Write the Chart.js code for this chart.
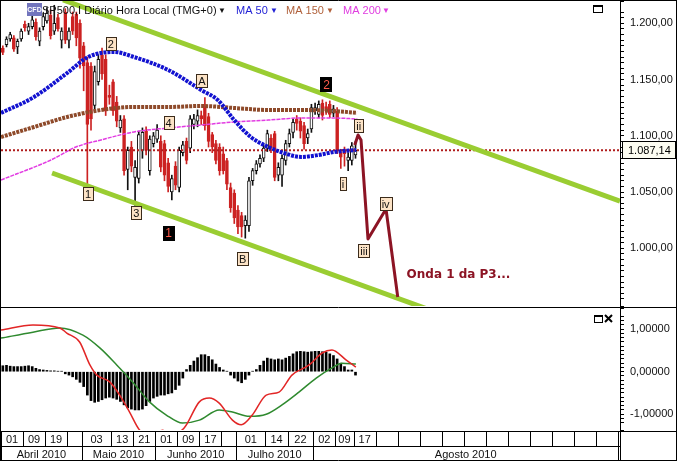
<!DOCTYPE html>
<html>
<head>
<meta charset="utf-8">
<title>SP500 diário</title>
<script src="https://cdn.jsdelivr.net/npm/chart.js@4.4.1/dist/chart.umd.min.js"></script>
<style>
  html, body { margin: 0; padding: 0; background: #fff; }
  #wrap { position: relative; width: 677px; height: 461px; overflow: hidden; }
  #mainChart { position: absolute; left: 0; top: 0; }
  #oscChart { position: absolute; left: 0; top: 307px; }
</style>
</head>
<body>
<div id="wrap">
  <canvas id="mainChart" width="677" height="308"></canvas>
  <canvas id="oscChart" width="677" height="154"></canvas>
</div>
<script>
// ---- daily candles, index 0 = 01/04/2010 ----
const opens = [
  1178, 1181, 1186, 1187, 1179, 1186, 1199, 1193, 1197, 1201,
  1184, 1197, 1202, 1207, 1193, 1205, 1185, 1210, 1185, 1206,
  1208, 1200, 1180, 1165, 1162, 1127, 1148, 1172, 1168, 1136,
  1148, 1130, 1107, 1115, 1070, 1090, 1063, 1062, 1087, 1104,
  1069, 1093, 1097, 1095, 1093, 1076, 1050, 1073, 1054, 1085,
  1095, 1089, 1110, 1113, 1118, 1125, 1117, 1101, 1093, 1090,
  1084, 1078, 1054, 1049, 1034, 1029, 1020, 1020, 1060, 1069,
  1075, 1080, 1089, 1098, 1102, 1065, 1065, 1078, 1093, 1103,
  1115, 1113, 1109, 1098, 1106, 1122, 1119, 1129, 1126, 1128,
  1120, 1122, 1085, 1087, 1078, 1078, 1083
];
const highs = [
  1180, 1188, 1192, 1189, 1186, 1195, 1202, 1200, 1208, 1204,
  1196, 1209, 1214, 1212, 1216, 1208, 1196, 1213, 1196, 1210,
  1210, 1203, 1183, 1170, 1165, 1162, 1172, 1178, 1172, 1145,
  1150, 1135, 1118, 1118, 1090, 1095, 1078, 1104, 1107, 1108,
  1100, 1103, 1110, 1100, 1096, 1080, 1065, 1077, 1090, 1095,
  1098, 1118, 1119, 1123, 1122, 1134, 1120, 1103, 1096, 1093,
  1090, 1080, 1058, 1052, 1038, 1032, 1029, 1063, 1071, 1078,
  1083, 1092, 1105, 1101, 1104, 1076, 1083, 1096, 1106, 1115,
  1118, 1116, 1112, 1106, 1128, 1129, 1131, 1132, 1130, 1131,
  1127, 1125, 1088, 1090, 1085, 1094, 1095
];
const lows = [
  1172, 1179, 1184, 1175, 1173, 1184, 1193, 1190, 1195, 1185,
  1180, 1194, 1200, 1186, 1190, 1193, 1178, 1182, 1178, 1190,
  1180, 1160, 1140, 1057, 1105, 1122, 1145, 1150, 1118, 1128,
  1118, 1108, 1103, 1065, 1052, 1068, 1038, 1058, 1080, 1083,
  1065, 1090, 1094, 1068, 1060, 1050, 1043, 1052, 1050, 1082,
  1075, 1085, 1106, 1108, 1110, 1105, 1090, 1085, 1075, 1065,
  1066, 1052, 1032, 1022, 1013, 1010, 1009, 1015, 1056, 1066,
  1072, 1077, 1086, 1085, 1060, 1060, 1055, 1074, 1090, 1098,
  1105, 1098, 1088, 1093, 1103, 1119, 1116, 1114, 1119, 1116,
  1117, 1084, 1071, 1073, 1069, 1074, 1080
];
const closes = [
  1174, 1186, 1190, 1177, 1184, 1193, 1196, 1197, 1203, 1188,
  1193, 1206, 1209, 1189, 1200, 1195, 1193, 1185, 1193, 1193,
  1187, 1169, 1162, 1110, 1115, 1157, 1168, 1155, 1122, 1134,
  1122, 1113, 1114, 1069, 1087, 1073, 1072, 1101, 1103, 1087,
  1097, 1100, 1105, 1072, 1065, 1055, 1062, 1056, 1087, 1092,
  1078, 1115, 1115, 1118, 1115, 1109, 1095, 1090, 1078, 1069,
  1069, 1057, 1036, 1027, 1019, 1019, 1025, 1060, 1069, 1075,
  1080, 1089, 1102, 1089, 1063, 1072, 1080, 1093, 1102, 1112,
  1111, 1104, 1093, 1102, 1125, 1125, 1128, 1118, 1122, 1119,
  1124, 1087, 1081, 1084, 1081, 1091, 1087.14
];
const lastPrice = 1087.14;

// moving averages, read at a few day positions
const ma50X  = [0, 9, 18, 23.7, 30.8, 36.2, 45.5, 54.5, 59, 63.5, 68, 72.8, 77, 81.7, 86.4, 90.7, 96.7];
const ma50   = [1120.3, 1134.5, 1155.8, 1170.0, 1174.5, 1170.0, 1158.5, 1140.7, 1131.8, 1114.0, 1098.9, 1090.0, 1084.7, 1081.2, 1082.9, 1085.6, 1087.4];
const ma150X = [0, 9, 18, 27.2, 36.2, 45.5, 54.5, 63.5, 72.8, 81.7, 90.7, 96.9];
const ma150  = [1098.9, 1107.8, 1116.7, 1122.9, 1125.6, 1125.6, 1126.5, 1124.7, 1122.9, 1122.9, 1122.0, 1120.3];
const ma200X = [0, 13.6, 20.4, 27.2, 36.2, 45.5, 54.5, 63.5, 72.8, 81.7, 90.7, 97];
const ma200  = [1060.7, 1078.5, 1090.0, 1096.3, 1103.4, 1106.9, 1109.6, 1112.3, 1114.0, 1115.8, 1115.8, 1114.9];

// channel lines
const upperX = [16.9, 168.5];
const upperY = [1220.7, 1042.0];
const lowerX = [13.9, 116.4];
const lowerY = [1066.9, 945.6];

// projected wave path
const waveX = [96.3, 97.2, 98.0, 99.9, 104.8, 108.0];
const waveY = [1091.8, 1100.7, 1096.3, 1008.3, 1034.9, 956.7];

// wave tags
const tagText = ['2', '1', '3', '4', 'A', 'B', 'ii', 'i', 'iii', 'iv'];
const tagX    = [29.9, 23.7, 36.8, 45.6, 54.7, 65.8, 97.4, 93.1, 98.8, 104.7];
const tagY    = [1181.6, 1048.7, 1031.8, 1111.8, 1148.7, 990.9, 1108.7, 1057.2, 997.6, 1039.4];
const bigTagText = ['2', '1'];
const bigTagX    = [88.6, 45.6];
const bigTagY    = [1145.6, 1014.0];
const noteText = 'Onda 1 da P3...';
const noteX = 110.4, noteY = 976.3;

// oscillator
const histValues = [
  0.14, 0.15, 0.13, 0.12, 0.12, 0.12, 0.13, 0.14, 0.12, 0.08,
  0.05, 0.04, 0.03, 0.02, 0.02, 0.01, 0.01, -0.05, -0.08, -0.12,
  -0.18, -0.25, -0.35, -0.55, -0.68, -0.72, -0.70, -0.66, -0.62, -0.60,
  -0.62, -0.65, -0.70, -0.78, -0.85, -0.88, -0.90, -0.90, -0.88, -0.80,
  -0.70, -0.62, -0.58, -0.55, -0.55, -0.52, -0.50, -0.42, -0.32, -0.15,
  0.05, 0.15, 0.25, 0.33, 0.40, 0.40, 0.36, 0.28, 0.18, 0.10,
  0.04, 0.01, -0.08, -0.15, -0.22, -0.26, -0.18, -0.08, 0.01, 0.05,
  0.15, 0.25, 0.32, 0.30, 0.28, 0.30, 0.28, 0.32, 0.36, 0.42,
  0.47, 0.48, 0.47, 0.46, 0.47, 0.48, 0.48, 0.47, 0.46, 0.42,
  0.38, 0.30, 0.20, 0.12, 0.04, 0.04, -0.08
];
const macdX = [0, 8.7, 16, 17.9, 21.4, 24.2, 26.1, 29.6, 32.3, 35, 37.7, 40.4, 44, 46.4, 49.9, 54, 56.7, 59.4, 63, 65.4, 68.4, 72.2, 75.7, 79.2, 83.9, 87.4, 90.1, 93.9, 96.6];
const macd  = [0.98, 1.10, 1.03, 0.91, 0.70, 0.16, -0.08, -0.24, -0.55, -0.95, -1.37, -1.50, -1.38, -1.47, -1.32, -0.71, -0.62, -0.74, -1.14, -1.25, -1.02, -0.55, -0.48, -0.08, 0.16, 0.44, 0.51, 0.28, 0.11];
const signalX = [0, 8.7, 16, 22.3, 26.9, 31.5, 35.8, 40.4, 45, 49.4, 54, 59.4, 63, 67.6, 72.2, 76.5, 81.1, 85.8, 90.1, 92.8, 96.6];
const signal  = [0.79, 0.93, 1.03, 0.86, 0.56, 0.16, -0.24, -0.71, -1.02, -1.21, -1.14, -0.90, -0.95, -1.05, -1.00, -0.78, -0.48, -0.15, 0.09, 0.20, 0.18];

// date axis
const dayCellStart = [0, 6, 12, 18, 22, 30, 36, 42, 48, 54, 60, 64, 72, 78, 85, 91, 96, 102, 108, 114, 120, 126, 132, 138, 144, 150, 156, 162];
const dayCellLabel = ['01', '09', '19', '', '03', '13', '21', '01', '09', '17', '', '01', '14', '22', '02', '09', '17', '', '', '', '', '', '', '', '', '', '', ''];
const monthStart = [0, 22, 42, 64, 85];
const monthLabel = ['Abril 2010', 'Maio 2010', 'Junho 2010', 'Julho 2010', 'Agosto 2010'];

const xMin = 0, xMax = 168.5;
const FONT = '"Liberation Sans", Arial, sans-serif';

function fmtNum(v, d) {
  const s = Math.abs(v).toFixed(d).split('.');
  return (v < 0 ? '-' : '') + s[0].replace(/\B(?=(\d{3})+(?!\d))/g, '.') + ',' + s[1];
}
const pts = (xs, ys) => xs.map((x, i) => ({ x: x, y: ys[i] }));

const candleX = closes.map((_, i) => i + 0.5);
const isUp = closes.map((c, i) => c >= opens[i]);
const downRed = '#cc2222';

function line(data, color, width, extra) {
  return Object.assign({ type: 'line', data: data, borderColor: color, borderWidth: width,
    pointRadius: 0, fill: false, clip: 0 }, extra || {});
}

function fixAxis(width) {
  return function (s) { s.width = width; s.paddingTop = 0; s.paddingBottom = 0; };
}

// ---------- main panel ----------
const mainOverlay = {
  id: 'mainOverlay',
  afterDraw(chart) {
    const ctx = chart.ctx, sx = chart.scales.x, sy = chart.scales.y, a = chart.chartArea;
    ctx.save();
    // wave tags
    ctx.font = '11px ' + FONT;
    ctx.textAlign = 'center';
    ctx.textBaseline = 'middle';
    tagText.forEach((t, i) => {
      const cx = sx.getPixelForValue(tagX[i]), cy = sy.getPixelForValue(tagY[i]);
      const w = Math.round(ctx.measureText(t).width) + 4, h = 13;
      const l = Math.round(cx - w / 2) + 0.5, tp = Math.round(cy - h / 2) + 0.5;
      ctx.fillStyle = '#fce3c6';
      ctx.fillRect(l, tp, w, h);
      ctx.strokeStyle = '#3b2b1b';
      ctx.lineWidth = 1;
      ctx.strokeRect(l, tp, w, h);
      ctx.fillStyle = '#111';
      ctx.fillText(t, cx, cy + 1);
    });
    ctx.font = '12px ' + FONT;
    bigTagText.forEach((t, i) => {
      const cx = sx.getPixelForValue(bigTagX[i]), cy = sy.getPixelForValue(bigTagY[i]);
      const l = Math.round(cx - 6), tp = Math.round(cy - 7);
      ctx.fillStyle = '#000';
      ctx.fillRect(l, tp, 12, 15);
      ctx.fillStyle = '#ff5a4a';
      ctx.fillText(t, cx, cy + 1);
    });
    // note
    ctx.font = 'bold 12px "DejaVu Sans", sans-serif';
    ctx.textAlign = 'left';
    ctx.fillStyle = '#8c1424';
    ctx.fillText(noteText, sx.getPixelForValue(noteX), sy.getPixelForValue(noteY));

    // header
    ctx.fillStyle = '#7275bd';
    ctx.fillRect(27, 3, 15, 13);
    ctx.fillStyle = '#fff';
    ctx.font = 'bold 7px ' + FONT;
    ctx.textAlign = 'center';
    ctx.fillText('CFD', 34.5, 10);
    ctx.textAlign = 'left';
    ctx.textBaseline = 'alphabetic';
    ctx.font = '11px ' + FONT;
    ctx.fillStyle = '#111';
    ctx.fillText('SP500,I Diário Hora Local (TMG+0)', 42, 14);
    ctx.font = '8px ' + FONT;
    ctx.fillText('▼', 218, 13);
    ctx.font = '11px ' + FONT;
    ctx.fillStyle = '#2222d6';
    ctx.fillText('MA 50', 236, 14);
    ctx.font = '8px ' + FONT; ctx.fillText('▼', 270, 13);
    ctx.font = '11px ' + FONT;
    ctx.fillStyle = '#b0603a';
    ctx.fillText('MA 150', 286, 14);
    ctx.font = '8px ' + FONT; ctx.fillText('▼', 326, 13);
    ctx.font = '11px ' + FONT;
    ctx.fillStyle = '#e03ce0';
    ctx.fillText('MA 200', 343, 14);
    ctx.font = '8px ' + FONT; ctx.fillText('▼', 382, 13);
    // window button
    ctx.strokeStyle = '#000';
    ctx.lineWidth = 1;
    ctx.strokeRect(593.5, 5.5, 9, 7);
    ctx.fillStyle = '#000';
    ctx.fillRect(593, 5, 10, 2);

    // last price tag
    const py = Math.round(sy.getPixelForValue(lastPrice));
    ctx.fillStyle = '#fdfdf2';
    ctx.fillRect(622.5, py - 8.5, 53, 17);
    ctx.strokeStyle = '#000';
    ctx.strokeRect(622.5, py - 8.5, 53, 17);
    ctx.fillStyle = '#000';
    ctx.font = '11px ' + FONT;
    ctx.textBaseline = 'middle';
    ctx.fillText(fmtNum(lastPrice, 2), 628, py + 0.5);

    // frame
    ctx.beginPath();
    ctx.moveTo(0.5, 0); ctx.lineTo(0.5, 308);
    ctx.moveTo(0, 0.5); ctx.lineTo(677, 0.5);
    ctx.moveTo(676.5, 0); ctx.lineTo(676.5, 308);
    ctx.moveTo(0, 307.5); ctx.lineTo(677, 307.5);
    ctx.moveTo(a.right + 0.5, 0); ctx.lineTo(a.right + 0.5, 308);
    ctx.stroke();
    ctx.restore();
  }
};

new Chart(document.getElementById('mainChart'), {
  data: {
    datasets: [
      line(pts(waveX, waveY), '#8c1424', 3, { order: 0, borderJoinStyle: 'round' }),
      line(pts(upperX, upperY), '#9acd32', 5, { order: 1 }),
      line(pts(lowerX, lowerY), '#9acd32', 5, { order: 1 }),
      line(pts(ma50X, ma50), '#1212d0', 4, { order: 2, borderDash: [3, 1], cubicInterpolationMode: 'monotone' }),
      line(pts(ma150X, ma150), '#8e4a2a', 4, { order: 2, borderDash: [3, 1], cubicInterpolationMode: 'monotone' }),
      line(pts(ma200X, ma200), '#e23be2', 1.5, { order: 2, borderDash: [4, 1], cubicInterpolationMode: 'monotone' }),
      line([{ x: xMin, y: lastPrice }, { x: xMax, y: lastPrice }], '#b01c1c', 2, { order: 3, borderDash: [2, 2] }),
      {
        type: 'bar', order: 4, grouped: false, barThickness: 3, minBarLength: 1,
        data: candleX.map((x, i) => ({ x: x, y: [opens[i], closes[i]] })),
        backgroundColor: isUp.map(u => u ? '#ffffff' : downRed),
        borderColor: isUp.map(u => u ? '#111' : downRed),
        borderWidth: 1, borderSkipped: false
      },
      {
        type: 'bar', order: 5, grouped: false, barThickness: 1,
        data: candleX.map((x, i) => ({ x: x, y: [lows[i], highs[i]] })),
        backgroundColor: isUp.map(u => u ? '#111' : downRed)
      }
    ]
  },
  options: {
    responsive: false,
    animation: false,
    layout: { padding: { left: 1, top: 1, bottom: 2, right: 0 } },
    plugins: { legend: { display: false }, tooltip: { enabled: false } },
    scales: {
      x: { type: 'linear', min: xMin, max: xMax, offset: false, display: false },
      y: {
        position: 'right', min: 948.7, max: 1219.8,
        afterFit: fixAxis(57),
        grid: { drawOnChartArea: false, tickLength: 4, color: '#000' },
        border: { color: '#000' },
        ticks: {
          stepSize: 5, autoSkip: false, padding: 6, color: '#111',
          font: { family: FONT, size: 11 },
          callback: v => (Math.abs(v % 50) < 1e-6 ? fmtNum(v, 2) : '')
        }
      }
    }
  },
  plugins: [mainOverlay]
});

// ---------- oscillator panel + date axis ----------
const oscOverlay = {
  id: 'oscOverlay',
  afterDraw(chart) {
    const ctx = chart.ctx, sx = chart.scales.x, a = chart.chartArea;
    const r1 = a.bottom + 1.5, r2 = r1 + 15, r3 = 153.5;
    ctx.save();
    ctx.strokeStyle = '#000';
    ctx.lineWidth = 1;
    ctx.beginPath();
    ctx.moveTo(0, r1); ctx.lineTo(677, r1);
    ctx.moveTo(0, r2); ctx.lineTo(a.right, r2);
    ctx.moveTo(0, r3); ctx.lineTo(677, r3);
    ctx.moveTo(0.5, 0); ctx.lineTo(0.5, 154);
    ctx.moveTo(676.5, 0); ctx.lineTo(676.5, 154);
    ctx.moveTo(a.right + 0.5, 0); ctx.lineTo(a.right + 0.5, 154);
    dayCellStart.forEach(d => {
      const x = Math.round(sx.getPixelForValue(d)) + 0.5;
      ctx.moveTo(x, r1); ctx.lineTo(x, r2);
    });
    monthStart.forEach(d => {
      const x = Math.round(sx.getPixelForValue(d)) + 0.5;
      ctx.moveTo(x, r1); ctx.lineTo(x, r3);
    });
    const xe = Math.round(sx.getPixelForValue(168)) + 0.5;
    ctx.moveTo(xe, r1); ctx.lineTo(xe, r3);
    ctx.stroke();

    ctx.fillStyle = '#111';
    ctx.font = '11px ' + FONT;
    ctx.textAlign = 'center';
    ctx.textBaseline = 'middle';
    dayCellStart.forEach((d, i) => {
      const end = i + 1 < dayCellStart.length ? dayCellStart[i + 1] : 168;
      const cx = (sx.getPixelForValue(d) + sx.getPixelForValue(end)) / 2;
      ctx.fillText(dayCellLabel[i], cx, (r1 + r2) / 2 + 1);
    });
    monthStart.forEach((d, i) => {
      const end = i + 1 < monthStart.length ? monthStart[i + 1] : 168;
      const cx = (sx.getPixelForValue(d) + sx.getPixelForValue(end)) / 2;
      ctx.fillText(monthLabel[i], cx, (r2 + r3) / 2 + 1);
    });

    // panel buttons
    ctx.strokeRect(594.5, 8.5, 8, 7);
    ctx.fillStyle = '#000';
    ctx.fillRect(594, 8, 9, 2);
    ctx.lineWidth = 2;
    ctx.beginPath();
    ctx.moveTo(605, 8); ctx.lineTo(612, 15);
    ctx.moveTo(612, 8); ctx.lineTo(605, 15);
    ctx.stroke();
    ctx.restore();
  }
};

new Chart(document.getElementById('oscChart'), {
  data: {
    datasets: [
      line(pts(macdX, macd), '#e22626', 1.5, { order: 0, cubicInterpolationMode: 'monotone' }),
      line(pts(signalX, signal), '#2f8a2f', 1.5, { order: 1, cubicInterpolationMode: 'monotone' }),
      {
        type: 'bar', order: 2, grouped: false, barThickness: 2,
        data: candleX.map((x, i) => ({ x: x, y: histValues[i] })),
        backgroundColor: '#000'
      }
    ]
  },
  options: {
    responsive: false,
    animation: false,
    layout: { padding: { left: 1, top: 1, bottom: 31, right: 0 } },
    plugins: { legend: { display: false }, tooltip: { enabled: false } },
    scales: {
      x: { type: 'linear', min: xMin, max: xMax, offset: false, display: false },
      y: {
        position: 'right', min: -1.372, max: 1.499,
        afterFit: fixAxis(57),
        grid: { drawOnChartArea: false, tickLength: 4, color: '#000' },
        border: { color: '#000' },
        ticks: {
          stepSize: 0.1, autoSkip: false, padding: 6, color: '#111',
          font: { family: FONT, size: 11 },
          callback: v => (Math.abs(v - Math.round(v)) < 1e-6 ? fmtNum(v, 5) : '')
        }
      }
    }
  },
  plugins: [oscOverlay]
});
</script>
</body>
</html>
